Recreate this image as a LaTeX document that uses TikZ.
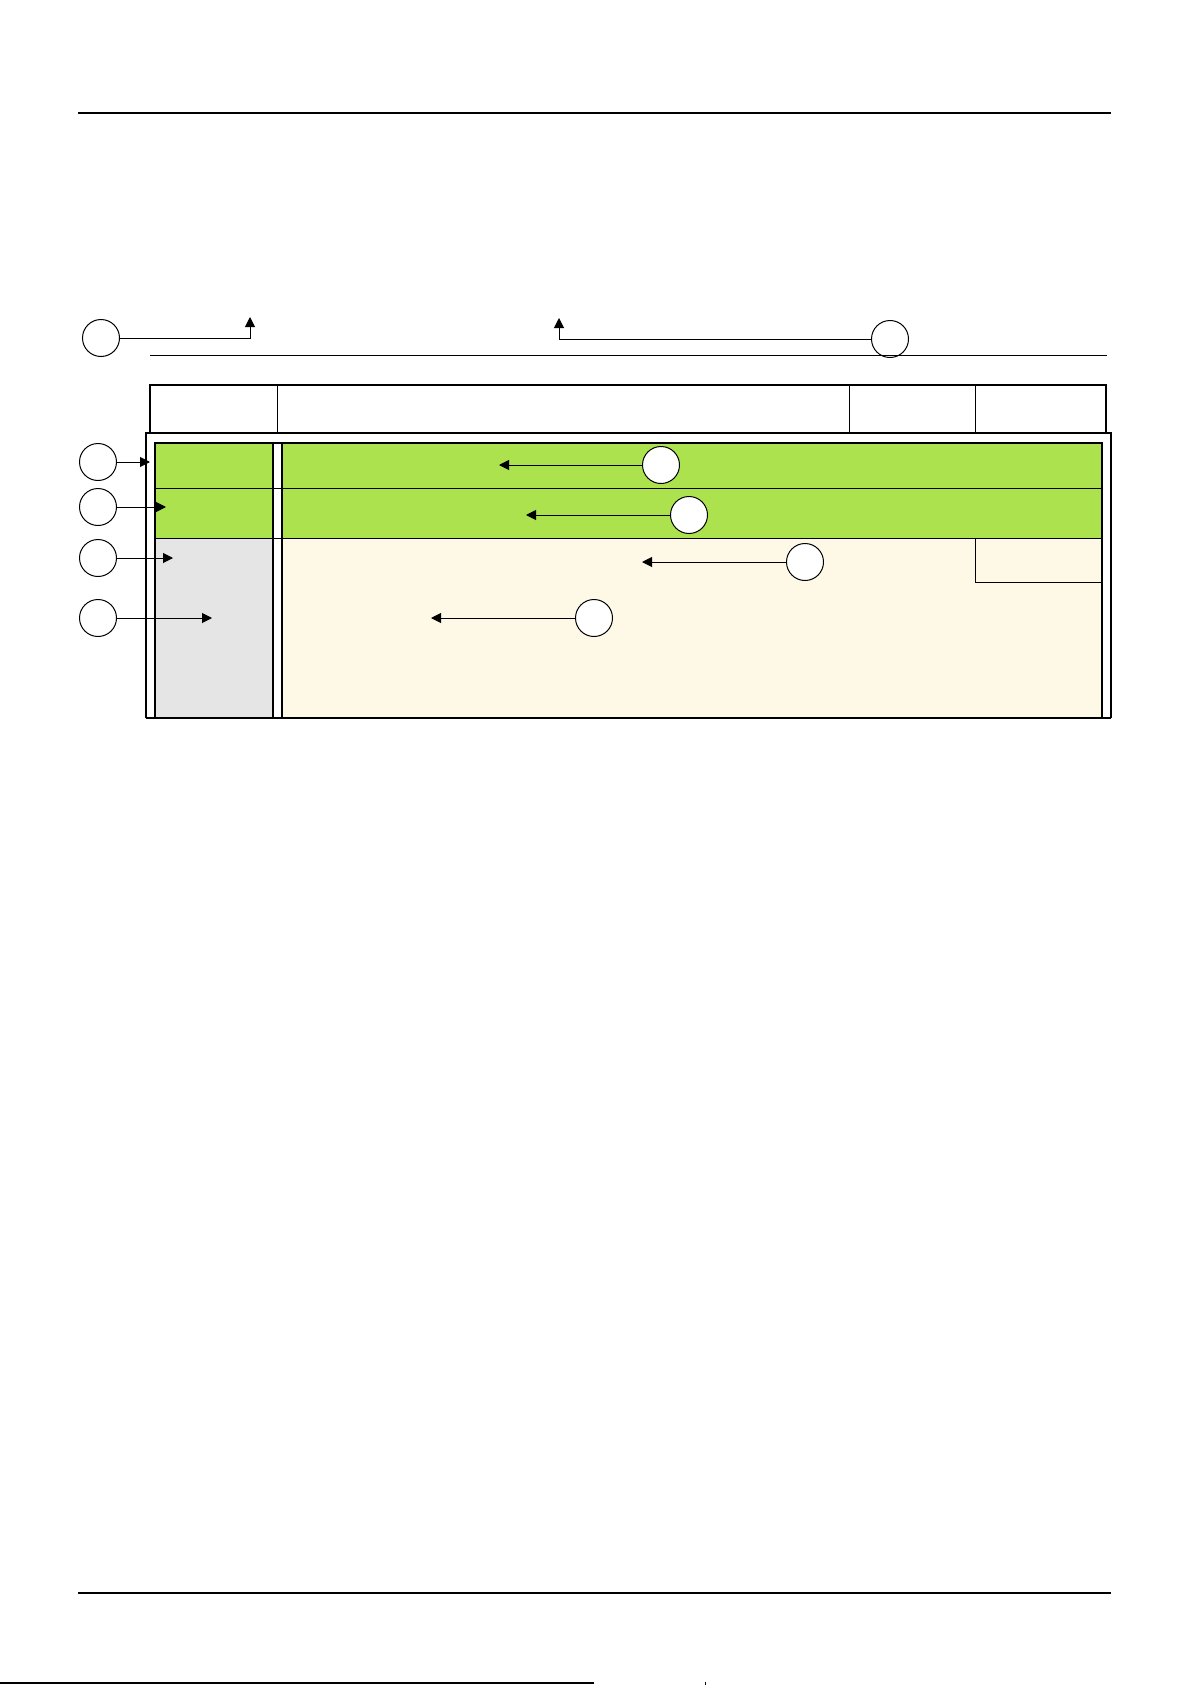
\documentclass[tikz,border=0pt]{standalone}
\usepackage{xcolor}
\usepackage{tikz}
\usetikzlibrary{arrows.meta, positioning}
\definecolor{rowgreen}{RGB}{172, 226, 78}
\definecolor{colgray}{RGB}{229, 229, 229}
\definecolor{cream}{RGB}{254, 248, 230}

\begin{document}
\begin{tikzpicture}[x=0.5pt, y=-0.5pt,
  marker/.style={circle, draw, line width=0.5pt, fill=white, minimum size=18.5pt, inner sep=0pt},
  pointer/.style={-{Triangle[length=5pt, width=5pt]}, line width=0.5pt},
  frame/.style={line width=1.4pt}]
  \useasboundingbox (0,0) rectangle (1191,1685);

  % page rules
  \draw[line width=0.8pt] (78,113) -- (1111,113);
  \draw[line width=0.8pt] (78,1593) -- (1111,1593);
  \draw[line width=0.8pt] (0,1683) -- (594,1683);
  \draw[line width=0.5pt] (705,1682) -- (705,1685);

  % fills
  \fill[rowgreen] (155,443) rectangle (273,538);
  \fill[rowgreen] (282,443) rectangle (1102,538);
  \fill[colgray] (155,538) rectangle (273,718);
  \fill[cream] (282,538) rectangle (1102,718);

  % header
  \node[marker] (hA) at (101,338) {};
  \node[marker] (hB) at (890,339) {};
  \coordinate (tA) at (250,317);
  \coordinate (tB) at (559,318);
  \draw[pointer] (hA.east) -| (tA);
  \draw[pointer] (hB.west) -| (tB);
  \draw[line width=0.5pt] (150,355) -- (1107,355);
  \draw[frame] (150,433) -- (150,385) -- (1106,385) -- (1106,433);
  \draw[line width=0.5pt] (277,385) -- (277,433);
  \draw[line width=0.5pt] (849,385) -- (849,433);
  \draw[line width=0.5pt] (975.5,385) -- (975.5,433);

  % frames
  \draw[frame] (146,718) -- (146,433) -- (1111,433) -- (1111,718);
  \draw[frame] (155,718) -- (155,443) -- (1102,443) -- (1102,718);
  \draw[line width=1pt] (273,443) -- (273,718);
  \draw[line width=1pt] (282,443) -- (282,718);
  \draw[line width=0.6pt] (146,718) -- (1111,718);
  \draw[line width=0.5pt] (155,488) -- (1102,488);
  \draw[line width=0.5pt] (155,538) -- (1102,538);
  \draw[line width=0.5pt] (975.5,538) -- (975.5,582) -- (1102,582);

  % left markers
  \node[marker] (l1) at (98,462) {};
  \node[marker] (l2) at (98,507) {};
  \node[marker] (l3) at (98,558) {};
  \node[marker] (l4) at (98,618) {};
  \coordinate (p1) at (150,462);
  \coordinate (p2) at (166,507);
  \coordinate (p3) at (173,558);
  \coordinate (p4) at (212,618);
  \draw[pointer] (l1) -- (p1);
  \draw[pointer] (l2) -- (p2);
  \draw[pointer] (l3) -- (p3);
  \draw[pointer] (l4) -- (p4);

  % right markers
  \node[marker] (r1) at (661,465) {};
  \node[marker] (r2) at (689,515) {};
  \node[marker] (r3) at (805,562) {};
  \node[marker] (r4) at (594,618) {};
  \coordinate (q1) at (499,465);
  \coordinate (q2) at (526,515);
  \coordinate (q3) at (642,562);
  \coordinate (q4) at (431,618);
  \draw[pointer] (r1) -- (q1);
  \draw[pointer] (r2) -- (q2);
  \draw[pointer] (r3) -- (q3);
  \draw[pointer] (r4) -- (q4);
\end{tikzpicture}
\end{document}
